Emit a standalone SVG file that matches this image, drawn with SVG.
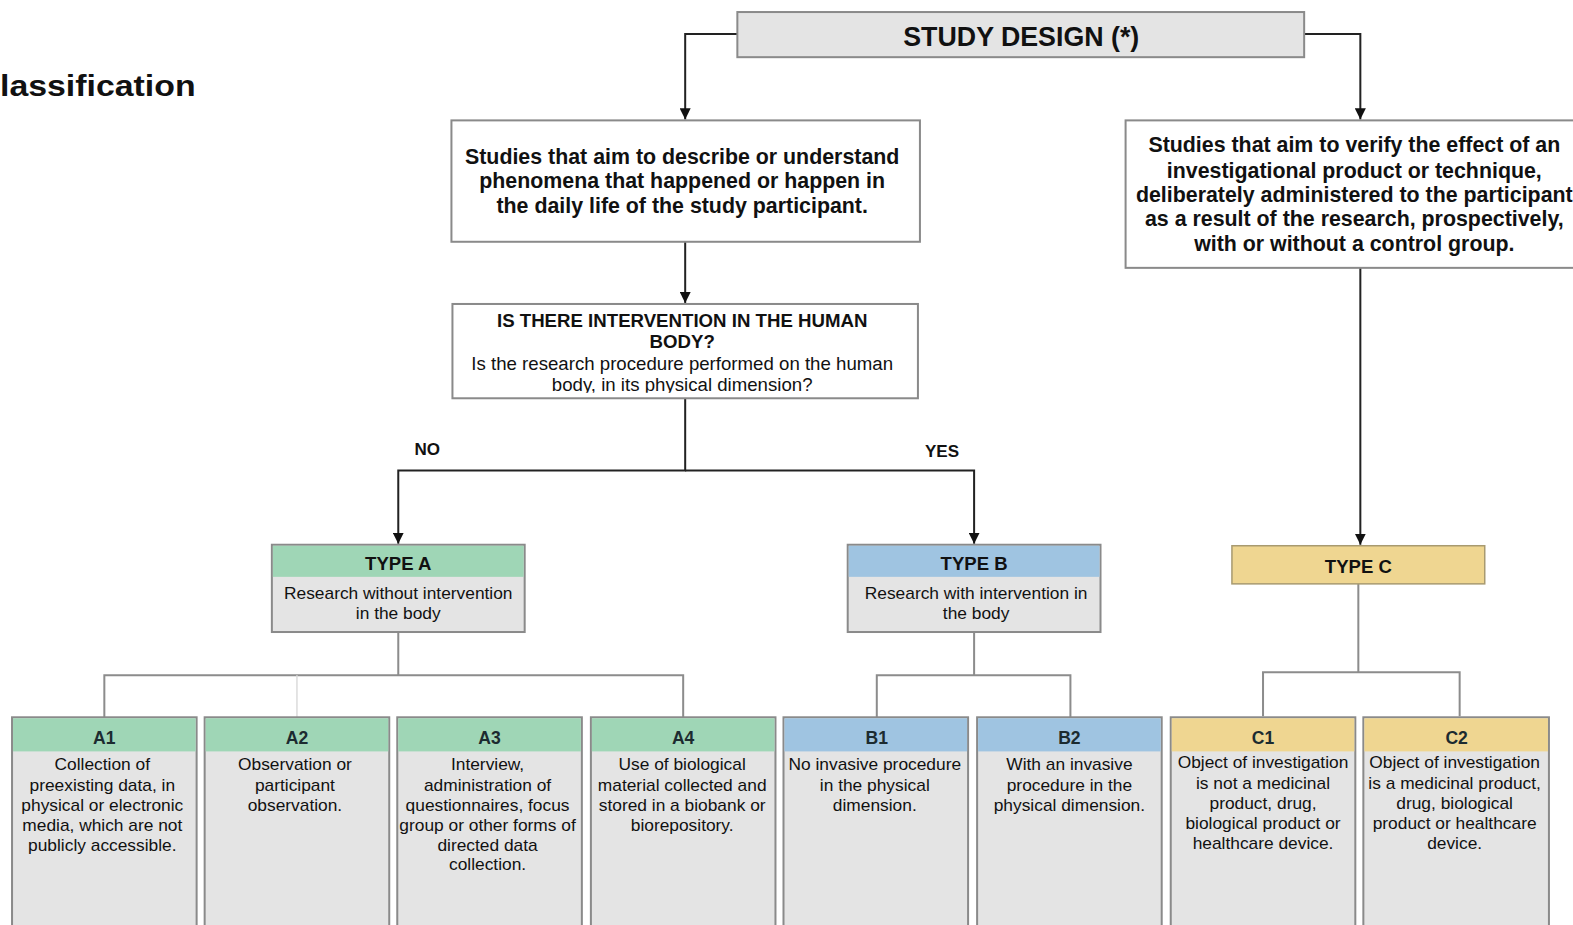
<svg xmlns="http://www.w3.org/2000/svg" width="1573" height="925" viewBox="0 0 1573 925">
<defs>
<marker id="arr" markerWidth="11" markerHeight="11" refX="10" refY="5" orient="auto" markerUnits="userSpaceOnUse" viewBox="0 0 10 10"><path d="M0,0 L10,5 L0,10 Z" fill="#111"/></marker>
<clipPath id="qclip"><rect x="452" y="304" width="462" height="87.5"/></clipPath>
<style>
text{font-family:"Liberation Sans",Arial,sans-serif;fill:#111;text-anchor:middle}
.b{font-weight:bold}
.box{fill:#fff;stroke:#8a8a8a;stroke-width:2}
.gbox{fill:#e4e4e4;stroke:#8a8a8a;stroke-width:2}
.arrow{fill:none;stroke:#222;stroke-width:2}
.tree{fill:none;stroke:#8c8c8c;stroke-width:2}
.hA{fill:#9fd6b6}.hB{fill:#9fc4e1}.hC{fill:#efd691}
.t20{font-size:21.3px;font-weight:bold}
.t16{font-size:17.3px}
.q{font-size:18.6px}
.ty{font-size:18.5px;font-weight:bold}
.hd{font-size:17.5px;font-weight:bold;fill:#1c2b30}
</style>
</defs>
<g transform="scale(1.0032)">
<text x="0" y="96" class="b" style="font-size:30px;text-anchor:start" textLength="195" lengthAdjust="spacingAndGlyphs">lassification</text>

<g id="connectors">
<path class="arrow" d="M735,34 H683 V119" marker-end="url(#arr)"/>
<path class="arrow" d="M1300,34 H1356 V119" marker-end="url(#arr)"/>
<path class="arrow" d="M683,241 V302" marker-end="url(#arr)"/>
<path class="arrow" d="M683,397 V469 H397 V542" marker-end="url(#arr)"/>
<path class="arrow" d="M683,469 H971 V542" marker-end="url(#arr)"/>
<path class="arrow" d="M1356,267 V543" marker-end="url(#arr)"/>
<path class="tree" d="M397,630 V673 M104,715 V673 H681 V715"/>
<path d="M296,673 V715" stroke="#dcdcdc" stroke-width="1.5"/>
<path class="tree" d="M971,630 V673 M874,715 V673 H1067 V715"/>
<path class="tree" d="M1354,582 V670 M1259,714 V670 H1455 V714"/>
<text x="426" y="454" class="b" style="font-size:17px">NO</text>
<text x="939" y="456" class="b" style="font-size:17px">YES</text>
</g>

<g id="study-design">
<rect x="735" y="12" width="565" height="45" class="gbox"/>
<text x="1018" y="46" class="b" style="font-size:26.7px">STUDY DESIGN (*)</text>
</g>

<g id="describe">
<rect x="450" y="120" width="467" height="121" class="box"/>
<text x="680" y="163" class="t20">Studies that aim to describe or understand</text>
<text x="680" y="187" class="t20">phenomena that happened or happen in</text>
<text x="680" y="212" class="t20">the daily life of the study participant.</text>
</g>

<g id="verify">
<rect x="1122" y="120" width="460" height="147" class="box"/>
<text x="1350" y="152" class="t20">Studies that aim to verify the effect of an</text>
<text x="1350" y="177" class="t20">investigational product or technique,</text>
<text x="1350" y="201" class="t20">deliberately administered to the participant</text>
<text x="1350" y="225" class="t20">as a result of the research, prospectively,</text>
<text x="1350" y="250" class="t20">with or without a control group.</text>
</g>

<g id="question">
<rect x="451" y="303" width="464" height="94" class="box"/>
<g clip-path="url(#qclip)">
<text x="680" y="326" class="b q">IS THERE INTERVENTION IN THE HUMAN</text>
<text x="680" y="347" class="b q">BODY?</text>
<text x="680" y="369" class="q">Is the research procedure performed on the human</text>
<text x="680" y="390" class="q">body, in its physical dimension?</text>
</g>
</g>

<g id="typeA">
<rect x="271" y="543" width="252" height="87" class="gbox"/>
<rect x="272" y="544" width="250" height="31" class="hA"/>
<text x="397" y="568" class="ty">TYPE A</text>
<text x="397" y="597" class="t16">Research without intervention</text>
<text x="397" y="617" class="t16">in the body</text>
</g>
<g id="typeB">
<rect x="845" y="543" width="252" height="87" class="gbox"/>
<rect x="846" y="544" width="250" height="31" class="hB"/>
<text x="971" y="568" class="ty">TYPE B</text>
<text x="973" y="597" class="t16">Research with intervention in</text>
<text x="973" y="617" class="t16">the body</text>
</g>
<g id="typeC">
<rect x="1228" y="544" width="252" height="38" class="hC" stroke="#a89a70" stroke-width="1.5"/>
<text x="1354" y="571" class="ty">TYPE C</text>
</g>

<g id="A1">
<rect x="12" y="715" width="184" height="220" class="gbox"/>
<rect x="13" y="716" width="182" height="33" class="hA"/>
<text x="104" y="742" class="hd">A1</text>
<text x="102" y="768" class="t16">Collection of</text>
<text x="102" y="788" class="t16">preexisting data, in</text>
<text x="102" y="808" class="t16">physical or electronic</text>
<text x="102" y="828" class="t16">media, which are not</text>
<text x="102" y="848" class="t16">publicly accessible.</text>
</g>
<g id="A2">
<rect x="204" y="715" width="184" height="220" class="gbox"/>
<rect x="205" y="716" width="182" height="33" class="hA"/>
<text x="296" y="742" class="hd">A2</text>
<text x="294" y="768" class="t16">Observation or</text>
<text x="294" y="788" class="t16">participant</text>
<text x="294" y="808" class="t16">observation.</text>
</g>
<g id="A3">
<rect x="396" y="715" width="184" height="220" class="gbox"/>
<rect x="397" y="716" width="182" height="33" class="hA"/>
<text x="488" y="742" class="hd">A3</text>
<text x="486" y="768" class="t16">Interview,</text>
<text x="486" y="788" class="t16">administration of</text>
<text x="486" y="808" class="t16">questionnaires, focus</text>
<text x="486" y="828" class="t16">group or other forms of</text>
<text x="486" y="848" class="t16">directed data</text>
<text x="486" y="867" class="t16">collection.</text>
</g>
<g id="A4">
<rect x="589" y="715" width="184" height="220" class="gbox"/>
<rect x="590" y="716" width="182" height="33" class="hA"/>
<text x="681" y="742" class="hd">A4</text>
<text x="680" y="768" class="t16">Use of biological</text>
<text x="680" y="788" class="t16">material collected and</text>
<text x="680" y="808" class="t16">stored in a biobank or</text>
<text x="680" y="828" class="t16">biorepository.</text>
</g>
<g id="B1">
<rect x="781" y="715" width="184" height="220" class="gbox"/>
<rect x="782" y="716" width="182" height="33" class="hB"/>
<text x="874" y="742" class="hd">B1</text>
<text x="872" y="768" class="t16">No invasive procedure</text>
<text x="872" y="788" class="t16">in the physical</text>
<text x="872" y="808" class="t16">dimension.</text>
</g>
<g id="B2">
<rect x="974" y="715" width="184" height="220" class="gbox"/>
<rect x="975" y="716" width="182" height="33" class="hB"/>
<text x="1066" y="742" class="hd">B2</text>
<text x="1066" y="768" class="t16">With an invasive</text>
<text x="1066" y="788" class="t16">procedure in the</text>
<text x="1066" y="808" class="t16">physical dimension.</text>
</g>
<g id="C1">
<rect x="1167" y="715" width="184" height="220" class="gbox"/>
<rect x="1168" y="716" width="182" height="33" class="hC"/>
<text x="1259" y="742" class="hd">C1</text>
<text x="1259" y="766" class="t16">Object of investigation</text>
<text x="1259" y="786" class="t16">is not a medicinal</text>
<text x="1259" y="806" class="t16">product, drug,</text>
<text x="1259" y="826" class="t16">biological product or</text>
<text x="1259" y="846" class="t16">healthcare device.</text>
</g>
<g id="C2">
<rect x="1359" y="715" width="185" height="220" class="gbox"/>
<rect x="1360" y="716" width="183" height="33" class="hC"/>
<text x="1452" y="742" class="hd">C2</text>
<text x="1450" y="766" class="t16">Object of investigation</text>
<text x="1450" y="786" class="t16">is a medicinal product,</text>
<text x="1450" y="806" class="t16">drug, biological</text>
<text x="1450" y="826" class="t16">product or healthcare</text>
<text x="1450" y="846" class="t16">device.</text>
</g>
</g>
</svg>
